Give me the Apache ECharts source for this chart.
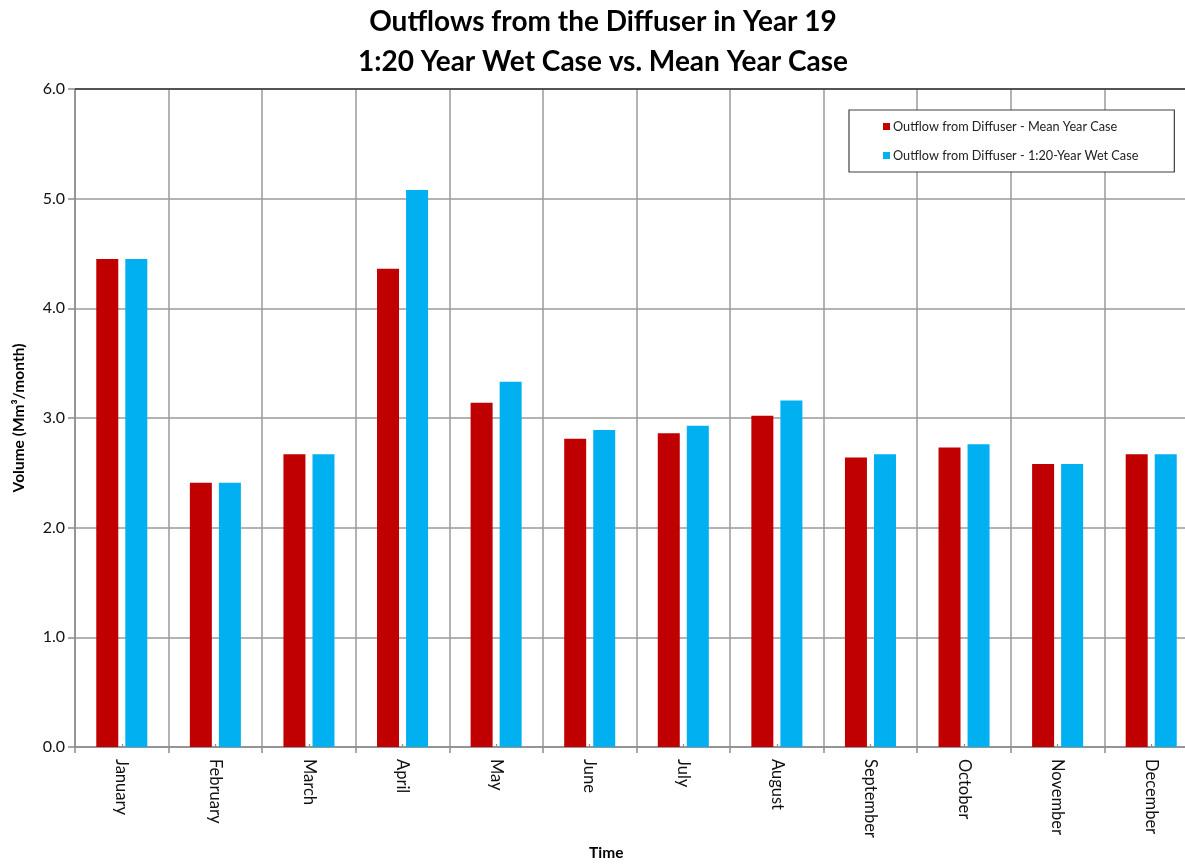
<!DOCTYPE html>
<html>
<head>
<meta charset="utf-8">
<script src="https://cdn.jsdelivr.net/npm/echarts@6/dist/echarts.min.js"></script>
<style>
  html, body { margin: 0; padding: 0; overflow: hidden; background: #fff; }
  /* the plot area runs slightly past the right edge of the window */
  #chart { width: 1200px; height: 865px; }
</style>
</head>
<body>
<div id="chart"></div>
<script>
// Monthly outflow volumes (Mm³/month), year 19
const months = ['January', 'February', 'March', 'April', 'May', 'June',
  'July', 'August', 'September', 'October', 'November', 'December'];
const meanYear = [4.45, 2.41, 2.67, 4.36, 3.14, 2.81, 2.86, 3.02, 2.64, 2.73, 2.58, 2.67];
const wetYear = [4.45, 2.41, 2.67, 5.08, 3.33, 2.89, 2.93, 3.16, 2.67, 2.76, 2.58, 2.67];
const yTicks = { min: 0, max: 6, interval: 1 };

const FONT = 'Lato, "Open Sans", sans-serif';
const chart = echarts.init(document.getElementById('chart'), null, { renderer: 'canvas' });

chart.setOption({
  backgroundColor: '#ffffff',
  animation: false,
  textStyle: { fontFamily: FONT },
  title: {
    text: 'Outflows from the Diffuser in Year 19\n1:20 Year Wet Case vs. Mean Year Case',
    left: 598,
    textAlign: 'center',
    top: -3,
    textStyle: { fontSize: 28, fontWeight: 'bold', color: '#000', lineHeight: 40, fontFamily: FONT }
  },
  legend: {
    orient: 'vertical',
    left: 849,
    top: 110,
    padding: [10, 36, 10, 34],
    itemWidth: 7,
    itemHeight: 7,
    itemGap: 16,
    borderColor: '#404040',
    borderWidth: 1.2,
    backgroundColor: '#fff',
    icon: 'rect',
    textStyle: { fontSize: 12.7, color: '#222', fontFamily: FONT, padding: [0, 0, 0, -2] },
    data: ['Outflow from Diffuser - Mean Year Case', 'Outflow from Diffuser - 1:20-Year Wet Case']
  },
  grid: { left: 75, right: 2, top: 89, bottom: 118, containLabel: false },
  xAxis: [{
    type: 'category',
    data: months,
    axisLine: { lineStyle: { color: '#8c8c8c', width: 1.5 } },
    axisTick: { show: true, length: 6, lineStyle: { color: '#8c8c8c', width: 1.5 } },
    axisLabel: { rotate: -90, fontSize: 16.5, color: '#111', margin: 12, fontFamily: FONT },
    splitLine: { show: true, lineStyle: { color: '#9a9a9a', width: 1.5 } }
  }, {
    // small centre marks between each month's pair of bars
    type: 'category',
    data: months,
    position: 'bottom',
    axisLine: { show: false },
    axisTick: { show: true, inside: true, alignWithLabel: true, length: 3, lineStyle: { color: '#8c8c8c', width: 1.2 } },
    axisLabel: { show: false },
    splitLine: { show: false }
  }],
  yAxis: {
    type: 'value',
    min: yTicks.min,
    max: yTicks.max,
    interval: yTicks.interval,
    name: 'Volume (Mm³/month)',
    nameLocation: 'middle',
    nameGap: 48,
    nameTextStyle: { fontSize: 15.5, fontWeight: 'bold', color: '#000', fontFamily: FONT },
    axisLine: { show: true, lineStyle: { color: '#8c8c8c', width: 1.5 } },
    axisTick: { show: true, length: 7, lineStyle: { color: '#8c8c8c', width: 1.5 } },
    axisLabel: { fontSize: 16, color: '#111', margin: 10, fontFamily: FONT,
      formatter: v => v.toFixed(1) },
    splitLine: { show: true, lineStyle: { color: '#9a9a9a', width: 1.5 } }
  },
  series: [{
    name: 'Outflow from Diffuser - Mean Year Case',
    type: 'bar',
    data: meanYear,
    barWidth: 22,
    barGap: '32%',
    itemStyle: { color: '#c00000' }
  }, {
    name: 'Outflow from Diffuser - 1:20-Year Wet Case',
    type: 'bar',
    data: wetYear,
    barWidth: 22,
    itemStyle: { color: '#00b0f0' }
  }],
  graphic: [{
    // dark top border of the plot area
    type: 'line',
    shape: { x1: 75, y1: 89, x2: 1200, y2: 89 },
    style: { stroke: '#333', lineWidth: 1.5 },
    z: 10
  }, {
    // x-axis title
    type: 'text',
    left: 589,
    top: 845,
    style: { text: 'Time', fontSize: 15.5, fontWeight: 'bold', fill: '#000', fontFamily: FONT }
  }]
});
</script>
</body>
</html>
